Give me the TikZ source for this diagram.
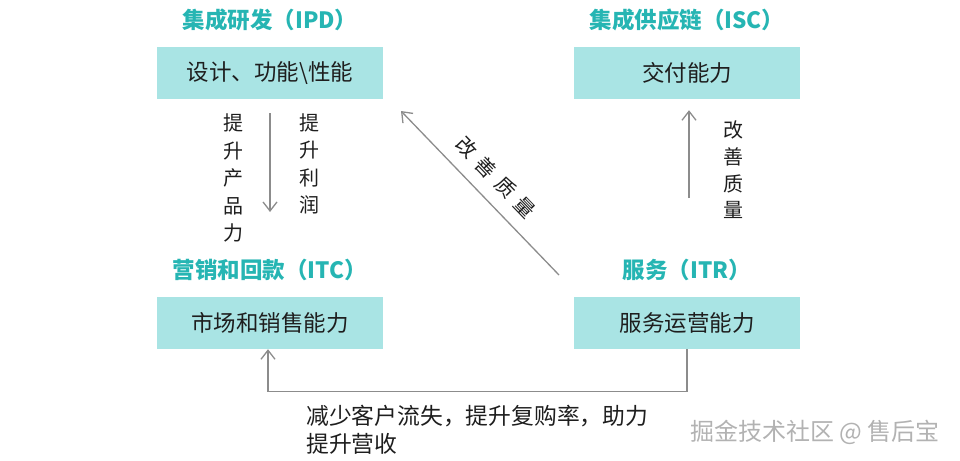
\documentclass[tikz,border=0pt]{standalone}
\usepackage{fontspec}
\setmainfont{Noto Sans CJK SC}
\usetikzlibrary{positioning, arrows.meta, calc}
\definecolor{boxteal}{RGB}{169,228,228}
\definecolor{titleteal}{RGB}{38,181,179}
\definecolor{linegray}{RGB}{140,140,140}
\definecolor{inkgray}{RGB}{30,30,30}

\begin{document}
\begin{tikzpicture}[x=1pt, y=-1pt, text=inkgray,
  box/.style={fill=boxteal, minimum width=226pt, minimum height=52pt, font=\fontsize{22.5}{27}\selectfont},
  areatitle/.style={text=titleteal, font=\bfseries\fontsize{22.5}{26}\selectfont},
  vtext/.style={align=center, inner sep=0pt, font=\fontsize{20}{27.5}\selectfont},
  flow/.style={draw=linegray, line width=1.3pt, -{Straight Barb[length=9pt,width=14pt]}}]
\useasboundingbox (0,0) rectangle (960,460);

% Domains and capabilities
\node[areatitle] (ipdt) at (270,20) {集成研发（IPD）};
\node[box] (ipd) at (270,73) {设计、功能\textbackslash 性能};
\node[areatitle] (isct) at (687,20) {集成供应链（ISC）};
\node[box] (isc) at (687,73) {交付能力};
\node[areatitle] (itct) at (270,270) {营销和回款（ITC）};
\node[box] (itc) at (270,323) {市场和销售能力};
\node[areatitle] (itrt) at (687,270) {服务（ITR）};
\node[box] (itr) at (687,323) {服务运营能力};

% Free ends
\coordinate (pdown) at (270,212);
\coordinate (qup) at (689,198);
\coordinate (qfrom) at (559,275);
\coordinate (qto) at (401,111);

% IPD to ITC
\draw[flow] ([yshift=-14pt]ipd.south) -- (pdown);
\node[vtext] (prod) at (233,178) {提\\升\\产\\品\\力};
\node[vtext] (profit) at (309,164) {提\\升\\利\\润};

% ITR to ISC
\draw[flow] (qup) -- ([xshift=2pt,yshift=-11pt]isc.south);
\node[vtext, font=\fontsize{20}{26.7}\selectfont] (qual) at (733,170) {改\\善\\质\\量};

% ITR to IPD
\draw[flow] (qfrom) -- (qto)
  node[midway, sloped, above=9pt, font=\fontsize{20}{24}\selectfont] (qual2)
  {改\hspace{8pt}善\hspace{8pt}质\hspace{8pt}量};

% ITR to ITC
\draw[flow] (itr.south) -- ++(0,42) -| ([xshift=-2pt]itc.south);
\node[anchor=north west, align=left, inner sep=0pt, font=\fontsize{22.8}{28.3}\selectfont] (gain)
  at (306,405) {减少客户流失，提升复购率，助力\\提升营收};

% Watermark
\node[text=gray!60, font=\fontsize{24}{28}\selectfont] (mark) at (815,432) {掘金技术社区 @ 售后宝};
\end{tikzpicture}
\end{document}
